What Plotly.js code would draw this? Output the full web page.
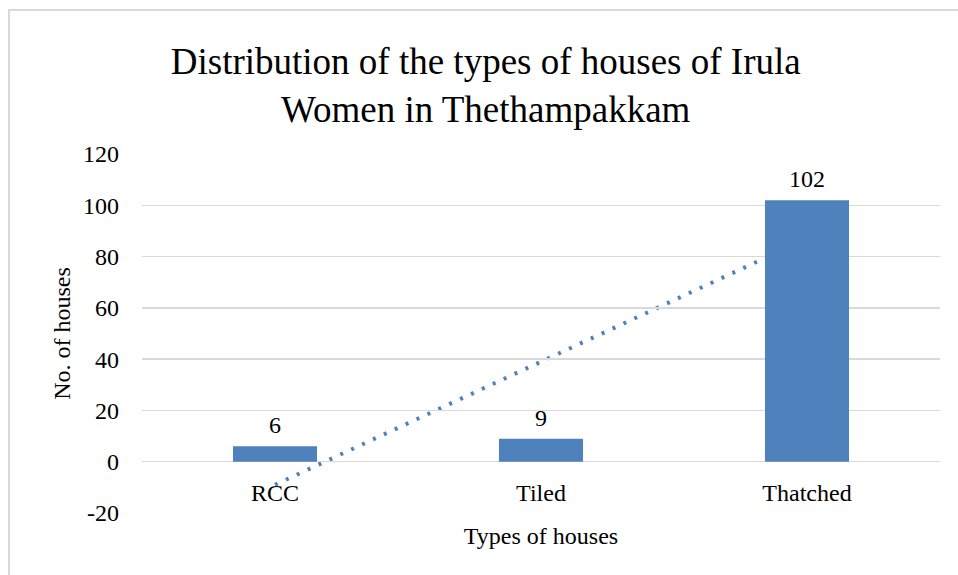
<!DOCTYPE html>
<html>
<head>
<meta charset="utf-8">
<script src="https://cdn.plot.ly/plotly-3.0.1.min.js"></script>
<style>
  html, body { margin: 0; padding: 0; background: #fff; }
  #wrap { position: relative; width: 958px; height: 575px; overflow: hidden; }
  #chart { position: absolute; left: 0; top: 0; width: 958px; height: 575px; }
  #frame { position: absolute; left: 8px; top: 9px; width: 1000px; height: 1000px;
           border-left: 2px solid #d9d9d9; border-top: 2px solid #d9d9d9; pointer-events: none; }
</style>
</head>
<body>
<div id="wrap">
  <div id="chart"></div>
  <div id="frame"></div>
</div>
<script>
// ---- data ----
const categories = ['RCC', 'Tiled', 'Thatched'];
const houses = [6, 9, 102];
const yTicks = [-20, 0, 20, 40, 60, 80, 100, 120];
const yTickText = ['-20', '0', '20', '40', '60', '80', '100', '120'];

// ---- linear trendline (least squares over category index) ----
const n = houses.length;
const xs = houses.map((_, i) => i);
const mx = xs.reduce((a, b) => a + b, 0) / n;
const my = houses.reduce((a, b) => a + b, 0) / n;
let sxy = 0, sxx = 0;
for (let i = 0; i < n; i++) { sxy += (xs[i] - mx) * (houses[i] - my); sxx += (xs[i] - mx) ** 2; }
const slope = sxy / sxx;
const intercept = my - slope * mx;

const FONT = 'Liberation Serif, Times New Roman, serif';
const BLUE = '#4f81bd';

const yDomain = [0, 1];
const yRange = [-20, 120];
const zeroPos = yDomain[0] + (0 - yRange[0]) / (yRange[1] - yRange[0]) * (yDomain[1] - yDomain[0]);

const traces = [{
  type: 'bar',
  x: categories,
  y: houses,
  marker: { color: BLUE },
  hoverinfo: 'x+y'
}];

const annotations = categories.map((c, i) => ({
  x: c, y: houses[i], xref: 'x', yref: 'y',
  text: String(houses[i]), showarrow: false,
  yanchor: 'bottom', yshift: 6,
  font: { family: FONT, size: 24, color: '#000' }
}));

const layout = {
  width: 958, height: 575,
  margin: { l: 142, r: 18, t: 154, b: 62 },
  paper_bgcolor: 'rgba(0,0,0,0)',
  plot_bgcolor: 'rgba(0,0,0,0)',
  showlegend: false,
  bargap: 0.684,
  title: {
    text: 'Distribution of the types of houses of Irula<br>Women in Thethampakkam',
    font: { family: FONT, size: 37, color: '#000' },
    x: 0.507, xanchor: 'center', xref: 'container',
    y: 1 - 74 / 575, yanchor: 'top', yref: 'container'
  },
  xaxis: {
    type: 'category',
    anchor: 'free', position: zeroPos,
    showline: false, ticks: '', showgrid: false,
    ticklabelstandoff: 14,
    tickfont: { family: FONT, size: 24, color: '#000' },
    title: { text: 'Types of houses', font: { family: FONT, size: 24, color: '#000' }, standoff: 22 }
  },
  yaxis: {
    range: yRange, domain: yDomain,
    tickvals: yTicks, ticktext: yTickText,
    showline: false, ticks: '', zeroline: false,
    gridcolor: '#d9d9d9', gridwidth: 1.5,
    ticklabelstandoff: 22,
    tickfont: { family: FONT, size: 24, color: '#000' },
    title: { text: 'No. of houses', font: { family: FONT, size: 24, color: '#000' }, standoff: 5 }
  },
  shapes: [{
    type: 'line', layer: 'below', xref: 'x', yref: 'y',
    x0: categories[0], x1: categories[n - 1],
    y0: intercept, y1: intercept + slope * (n - 1),
    line: { color: BLUE, width: 4, dash: '3px,9px' }
  }],
  annotations: annotations
};

Plotly.newPlot('chart', traces, layout, { displayModeBar: false, staticPlot: true });
</script>
</body>
</html>
